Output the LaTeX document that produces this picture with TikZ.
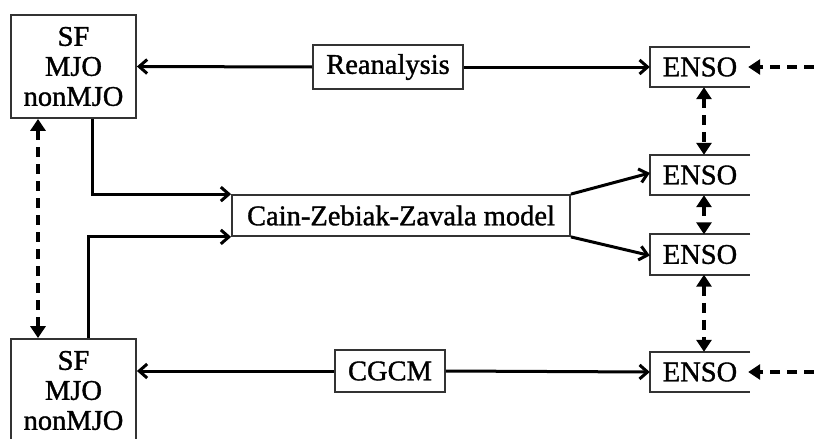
\documentclass[tikz,border=0pt]{standalone}
\usepackage{fontspec}
\setmainfont{Liberation Serif}[FakeBold=1.2,AutoFakeBold=1.2]
\usetikzlibrary{arrows.meta,positioning}

\begin{document}
\begin{tikzpicture}[
    x=1pt, y=-1pt,
    inner sep=0pt,
    every node/.style={font=\fontsize{28.5}{30}\selectfont\bfseries},
    bbox/.style={draw=black!80, line width=1.8pt, align=center},
    ebox/.style={minimum width=100pt, minimum height=40pt},
    arr/.style={line width=3pt, -{Straight Barb[length=8pt,width=14pt]}},
    dsh/.style={line width=3.2pt, dash pattern=on 10pt off 7pt,
        {Triangle[length=12pt,width=15pt]}-{Triangle[length=12pt,width=15pt]}},
    dshin/.style={line width=3.2pt, dash pattern=on 10pt off 7pt,
        -{Triangle[length=12pt,width=15pt]}},
    ]
    \clip (0,0) rectangle (814,439);

    %SF boxes
    \node[bbox, minimum width=125pt, minimum height=103pt] (sftop) at (73.5,66.5) {SF\\MJO\\nonMJO};
    \node[bbox, minimum width=125pt, minimum height=103pt] (sfbot) at (73.5,390.5) {SF\\MJO\\nonMJO};

    %models
    \node[bbox, minimum width=150pt, minimum height=44pt] (rean) at (388,67) {Reanalysis};
    \node[bbox, minimum width=110pt, minimum height=42pt] (cgcm) at (390,371) {CGCM};
    \node[bbox, minimum width=338pt, minimum height=41pt] (czz) at (401,215.5) {Cain-Zebiak-Zavala model};

    %ENSO boxes (open on the right)
    \node[ebox] (enso1) at (700,67) {ENSO};
    \node[ebox] (enso2) at (700,175) {ENSO};
    \node[ebox] (enso3) at (700,254.5) {ENSO};
    \node[ebox] (enso4) at (700,372) {ENSO};
    \foreach \e in {enso1,enso2,enso3,enso4}
        \draw[draw=black!80, line width=1.8pt] (\e.north east) -- (\e.north west)
            -- (\e.south west) -- (\e.south east);

    %outside inputs
    \coordinate (in1) at (814,67);
    \coordinate (in4) at (814,372);

    %solid arrows
    \draw[arr] (rean.west) -- (sftop.east);
    \draw[arr] (rean.east) -- (enso1.west);
    \draw[arr] (cgcm.west) -- (cgcm.west -| sfbot.east);
    \draw[arr] (cgcm.east) -- (enso4.west);
    \draw[arr] ([xshift=18.5pt]sftop.south) |- (czz.north west);
    \draw[arr] ([xshift=14.5pt]sfbot.north) |- (czz.south west);
    \draw[arr] (czz.north east) -- ([yshift=2pt]enso2.west);
    \draw[arr] (czz.south east) -- ([yshift=-1pt]enso3.west);

    %dashed arrows
    \draw[dsh] ([xshift=-35.5pt]sftop.south) -- ([xshift=-35.5pt]sfbot.north);
    \draw[dsh] ([xshift=4pt]enso1.south) -- ([xshift=4pt]enso2.north);
    \draw[dsh] ([xshift=4pt]enso2.south) -- ([xshift=4pt]enso3.north);
    \draw[dsh] ([xshift=4pt]enso3.south) -- ([xshift=4pt]enso4.north);
    \draw[dshin] (in1) -- ([xshift=-2pt]enso1.east);
    \draw[dshin] (in4) -- ([xshift=-2pt]enso4.east);

\end{tikzpicture}
\end{document}
